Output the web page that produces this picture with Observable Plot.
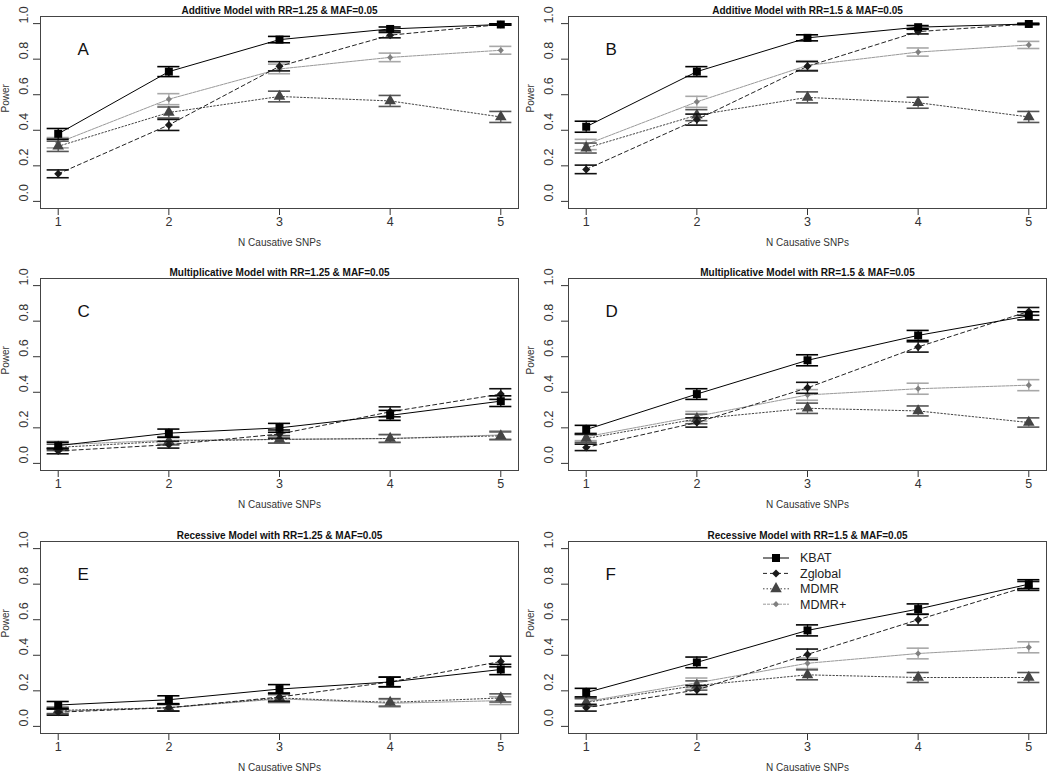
<!DOCTYPE html>
<html><head><meta charset="utf-8">
<script src="https://cdn.jsdelivr.net/npm/d3@7"></script>
<script src="https://cdn.jsdelivr.net/npm/@observablehq/plot@0.6"></script>
<style>
body{margin:0;background:#fff;}
#wrap{position:relative;width:1050px;height:773px;overflow:hidden;background:#fff;}
.panel{position:absolute;}
</style>
</head><body><div id="wrap"></div>
<script>
// ---- data ----
const nSNPs = [1, 2, 3, 4, 5];
const powerTicks = [0, 0.2, 0.4, 0.6, 0.8, 1.0];
const methods = ["KBAT", "Zglobal", "MDMR", "MDMR+"];
const panelLetters = ["A", "B", "C", "D", "E", "F"];
const panelTitles = [
  "Additive Model with RR=1.25 & MAF=0.05",
  "Additive Model with RR=1.5 & MAF=0.05",
  "Multiplicative Model with RR=1.25 & MAF=0.05",
  "Multiplicative Model with RR=1.5 & MAF=0.05",
  "Recessive Model with RR=1.25 & MAF=0.05",
  "Recessive Model with RR=1.5 & MAF=0.05"
];
// power per panel (A..F), per N causative SNPs (1..5)
const kbatPower = [
  [0.38, 0.73, 0.91, 0.97, 0.995],
  [0.42, 0.73, 0.92, 0.98, 0.998],
  [0.10, 0.17, 0.20, 0.27, 0.35],
  [0.19, 0.39, 0.58, 0.72, 0.83],
  [0.12, 0.15, 0.21, 0.25, 0.32],
  [0.19, 0.36, 0.54, 0.66, 0.80]
];
const kbatErr = [
  [0.030, 0.028, 0.018, 0.011, 0.004],
  [0.031, 0.028, 0.017, 0.009, 0.003],
  [0.019, 0.023, 0.025, 0.028, 0.030],
  [0.024, 0.030, 0.031, 0.028, 0.023],
  [0.020, 0.022, 0.025, 0.027, 0.029],
  [0.024, 0.030, 0.031, 0.029, 0.025]
];
const zglobalPower = [
  [0.155, 0.43, 0.76, 0.935, 0.995],
  [0.18, 0.46, 0.76, 0.955, 0.998],
  [0.07, 0.105, 0.165, 0.29, 0.39],
  [0.09, 0.23, 0.425, 0.655, 0.855],
  [0.08, 0.105, 0.165, 0.25, 0.365],
  [0.105, 0.205, 0.405, 0.60, 0.79]
];
const zglobalErr = [
  [0.022, 0.031, 0.026, 0.015, 0.004],
  [0.024, 0.031, 0.026, 0.013, 0.003],
  [0.016, 0.019, 0.023, 0.028, 0.030],
  [0.018, 0.026, 0.031, 0.029, 0.022],
  [0.017, 0.019, 0.023, 0.027, 0.030],
  [0.019, 0.025, 0.030, 0.030, 0.025]
];
const mdmrPower = [
  [0.31, 0.50, 0.59, 0.565, 0.475],
  [0.30, 0.485, 0.585, 0.555, 0.475],
  [0.09, 0.125, 0.135, 0.14, 0.155],
  [0.14, 0.25, 0.31, 0.295, 0.23],
  [0.09, 0.105, 0.16, 0.135, 0.16],
  [0.135, 0.23, 0.29, 0.275, 0.275]
];
const mdmrErr = [
  [0.029, 0.031, 0.030, 0.031, 0.031],
  [0.028, 0.031, 0.031, 0.031, 0.031],
  [0.018, 0.021, 0.021, 0.022, 0.022],
  [0.022, 0.027, 0.029, 0.028, 0.026],
  [0.018, 0.019, 0.023, 0.021, 0.023],
  [0.021, 0.026, 0.028, 0.028, 0.028]
];
const mdmrPlusPower = [
  [0.33, 0.575, 0.745, 0.81, 0.85],
  [0.32, 0.56, 0.765, 0.84, 0.88],
  [0.105, 0.13, 0.135, 0.14, 0.16],
  [0.15, 0.265, 0.385, 0.42, 0.44],
  [0.085, 0.105, 0.155, 0.13, 0.145],
  [0.14, 0.245, 0.355, 0.41, 0.445]
];
const mdmrPlusErr = [
  [0.029, 0.031, 0.027, 0.024, 0.022],
  [0.029, 0.031, 0.026, 0.023, 0.020],
  [0.019, 0.021, 0.021, 0.022, 0.023],
  [0.022, 0.027, 0.030, 0.031, 0.031],
  [0.017, 0.019, 0.022, 0.021, 0.022],
  [0.022, 0.027, 0.030, 0.030, 0.031]
];

// ---- styles ----
const series = {
  "KBAT":    {power: kbatPower,     err: kbatErr,     stroke: "#000", dash: null,  symbol: "square",   r: 4.5, fill: "#000", bar: "#000"},
  "Zglobal": {power: zglobalPower,  err: zglobalErr,  stroke: "#222", dash: "4,3", symbol: "diamond2", r: 3.6, fill: "#1a1a1a", bar: "#111"},
  "MDMR":    {power: mdmrPower,     err: mdmrErr,     stroke: "#444", dash: "1.5,2", symbol: "triangle", r: 4.3, fill: "#444", bar: "#555"},
  "MDMR+":   {power: mdmrPlusPower, err: mdmrPlusErr, stroke: "#9a9a9a", dash: "3,1", symbol: "diamond2", r: 2.8, fill: "#808080", bar: "#a8a8a8"}
};
const drawOrder = ["MDMR+", "MDMR", "Zglobal", "KBAT"];
const capHalf = 0.1;
const font = "'Liberation Sans', Arial, sans-serif";

const wrap = document.getElementById("wrap");
const colLeft = [40, 43], colRight = [7, 4], colX = [0, 525];
const rowTop = [0, 262, 525];
const tickLabelDx = [-17, -20], yLabelDx = [-35, -38];

panelTitles.forEach((title, p) => {
  const col = p % 2, row = Math.floor(p / 2);
  const marks = [];
  marks.push(Plot.axisX({ticks: nSNPs, tickSize: 7, tickPadding: 2, fontSize: 12.5, label: null, color: "#333", tickFormat: d3.format("d")}));
  marks.push(Plot.axisY({ticks: powerTicks, tickSize: 7, tickFormat: () => "", label: null, color: "#333"}));
  marks.push(Plot.text(powerTicks, {y: d => d, text: d => d3.format(".1f")(d), frameAnchor: "left", dx: tickLabelDx[col], rotate: -90, fontSize: 12.5, fill: "#333"}));
  marks.push(Plot.text(["Power"], {frameAnchor: "left", dx: yLabelDx[col], rotate: -90, fontSize: 10, fill: "#333"}));
  marks.push(Plot.text(["N Causative SNPs"], {frameAnchor: "bottom", dy: 37, fontSize: 10, fill: "#333"}));
  marks.push(Plot.text([title], {frameAnchor: "top", dy: -10, fontSize: 10, fontWeight: "bold", fill: "#111"}));
  marks.push(Plot.text([panelLetters[p]], {frameAnchor: "top-left", dx: 37, dy: 26, fontSize: 17, fill: "#111"}));
  for (const m of drawOrder) {
    const s = series[m];
    const data = nSNPs.map((x, i) => ({x, power: s.power[p][i], err: s.err[p][i]}));
    marks.push(Plot.line(data, {x: "x", y: "power", stroke: s.stroke, strokeWidth: 1, strokeDasharray: s.dash}));
    marks.push(Plot.ruleX(data, {x: "x", y1: d => d.power - d.err, y2: d => d.power + d.err, stroke: s.bar, strokeWidth: 1.3}));
    marks.push(Plot.ruleY(data, {y: d => d.power + d.err, x1: d => d.x - capHalf, x2: d => d.x + capHalf, stroke: s.bar, strokeWidth: 1.6}));
    marks.push(Plot.ruleY(data, {y: d => d.power - d.err, x1: d => d.x - capHalf, x2: d => d.x + capHalf, stroke: s.bar, strokeWidth: 1.6}));
    marks.push(Plot.dot(data, {x: "x", y: "power", symbol: s.symbol, r: s.r, fill: s.fill, stroke: "none"}));
  }
  marks.push(Plot.frame({stroke: "#444", strokeWidth: 1}));
  const chart = Plot.plot({
    width: 525, height: 262,
    marginLeft: colLeft[col], marginRight: colRight[col], marginTop: 16, marginBottom: 54,
    x: {domain: [0.84, 5.16]},
    y: {domain: [-0.04, 1.04]},
    style: {fontFamily: font, background: "transparent", overflow: "visible"},
    marks
  });
  const div = document.createElement("div");
  div.className = "panel";
  div.style.left = colX[col] + "px";
  div.style.top = rowTop[row] + "px";
  div.appendChild(chart);
  wrap.appendChild(div);
});

// ---- legend (panel F) ----
const leg = d3.select(wrap).append("svg")
  .attr("width", 120).attr("height", 72)
  .style("position", "absolute").style("left", "755px").style("top", "545px")
  .style("font-family", font);
const symbolTypes = {square: d3.symbolSquare, diamond2: d3.symbolDiamond2, triangle: d3.symbolTriangle};
methods.forEach((m, i) => {
  const s = series[m];
  const y = 13 + i * 15.4;
  const g = leg.append("g");
  g.append("line").attr("x1", 8).attr("x2", 34).attr("y1", y).attr("y2", y)
    .attr("stroke", s.stroke).attr("stroke-width", 1).attr("stroke-dasharray", s.dash);
  g.append("path").attr("transform", `translate(21,${y})`)
    .attr("d", d3.symbol(symbolTypes[s.symbol], Math.PI * s.r * s.r)()).attr("fill", s.fill);
  g.append("text").attr("x", 45).attr("y", y).attr("dy", "0.35em")
    .attr("font-size", 12.5).attr("fill", "#222").text(m);
});
</script>
</body></html>
